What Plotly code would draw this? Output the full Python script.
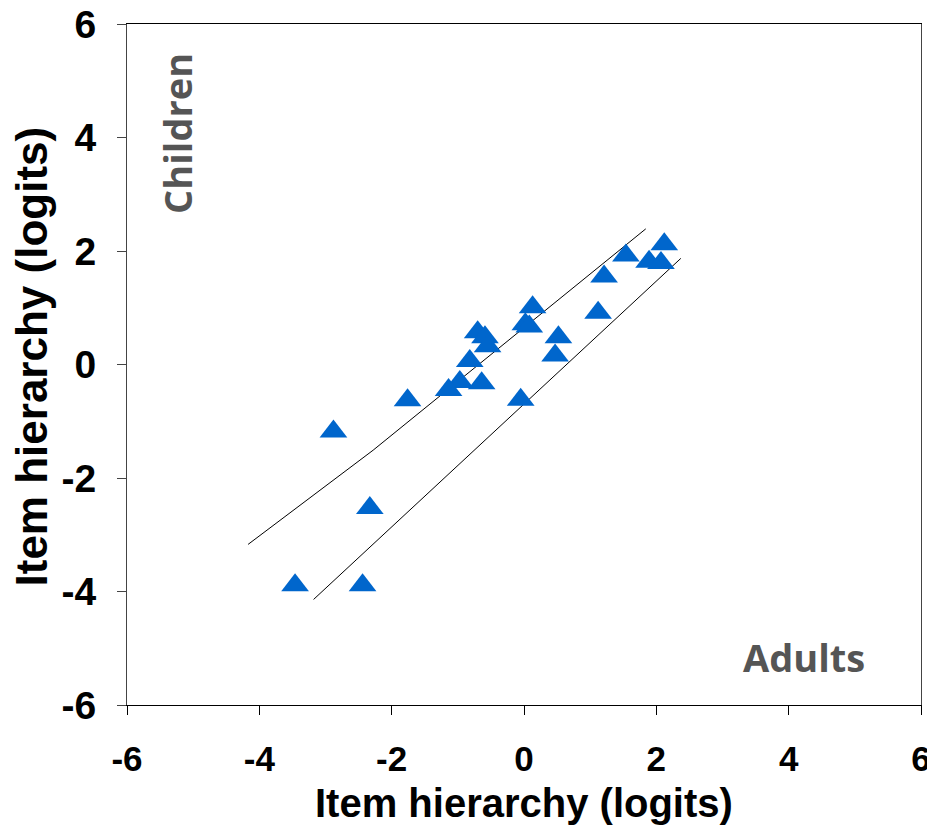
import plotly.graph_objects as go

# Item measures: adults (x) vs children (y), logits
adults_x = [2.12, 1.54, 1.89, 2.07, 1.21, 0.13, 0.02, 0.08, 1.12, -0.70, -0.59, -0.55,
            0.52, 0.47, -0.82, -0.97, -0.64, -1.14, -1.76, -0.05, -2.88, -2.33, -3.46, -2.44]
children_y = [2.12, 1.92, 1.81, 1.79, 1.55, 1.01, 0.71, 0.67, 0.91, 0.57, 0.48, 0.32,
              0.48, 0.16, 0.06, -0.31, -0.33, -0.45, -0.63, -0.62, -1.18, -2.53, -3.89, -3.89]

# control lines
upper_x = [-4.17, -2.28, 1.84]
upper_y = [-3.17, -1.51, 2.39]
lower_x = [-3.18, 2.37]
lower_y = [-4.14, 1.87]

tick_vals = [-6, -4, -2, 0, 2, 4, 6]
tick_text = ["-6", "-4", "-2", "0", "2", "4", "6"]

fig = go.Figure()
fig.add_trace(go.Scatter(x=upper_x, y=upper_y, mode="lines",
                         line=dict(color="black", width=1), showlegend=False))
fig.add_trace(go.Scatter(x=lower_x, y=lower_y, mode="lines",
                         line=dict(color="black", width=1), showlegend=False))
fig.add_trace(go.Scatter(x=adults_x, y=children_y, mode="markers",
                         marker=dict(symbol="triangle-up", size=24, color="#0066CC",
                                     line=dict(width=0)),
                         showlegend=False))

axis_font = "Arial, Liberation Sans, sans-serif"
comic = "Comic Sans MS, Open Sans, sans-serif"

fig.update_layout(
    width=927, height=821,
    margin=dict(l=119, r=14, t=16, b=124, autoexpand=False),
    paper_bgcolor="white", plot_bgcolor="white",
    xaxis=dict(range=[-6, 6], tickvals=tick_vals, ticktext=tick_text, automargin=False,
               showgrid=False, zeroline=False, showline=True, linecolor="black",
               linewidth=1, mirror=True, ticks="outside", ticklen=9, tickcolor="black",
               ticklabeloverflow="allow",
               tickfont=dict(family=axis_font, size=35, color="black", weight="bold"),
               ticklabelstandoff=14),
    yaxis=dict(range=[-6, 6], tickvals=tick_vals, ticktext=tick_text, automargin=False,
               showgrid=False, zeroline=False, showline=True, linecolor="#444",
               linewidth=1, mirror=True, ticks="outside", ticklen=9, tickcolor="#444",
               ticklabeloverflow="allow",
               tickfont=dict(family=axis_font, size=39, color="black", weight="bold"),
               ticklabelstandoff=13),
    annotations=[
        dict(text="Item hierarchy (logits)", xref="paper", yref="paper",
             x=0.5, y=0, yshift=-98, xanchor="center", yanchor="middle", showarrow=False,
             font=dict(family=axis_font, size=40, color="black", weight="bold")),
        dict(text="Item hierarchy (logits)", xref="paper", yref="paper",
             x=0, y=0.5, yshift=8, xshift=-96, xanchor="center", yanchor="middle",
             textangle=-90, showarrow=False,
             font=dict(family=axis_font, size=44, color="black", weight="bold")),
        dict(text="Children", xref="paper", yref="paper",
             x=(177 - 127) / 794, y=(705 - 134) / 681, xanchor="center", yanchor="middle",
             textangle=-90, showarrow=False,
             font=dict(family=comic, size=38, color="#555555", weight="bold")),
        dict(text="Adults", xref="paper", yref="paper",
             x=(804 - 127) / 794, y=(705 - 657) / 681, xanchor="center", yanchor="middle",
             showarrow=False,
             font=dict(family=comic, size=38, color="#555555", weight="bold")),
    ],
)

fig.write_html("out.html")
